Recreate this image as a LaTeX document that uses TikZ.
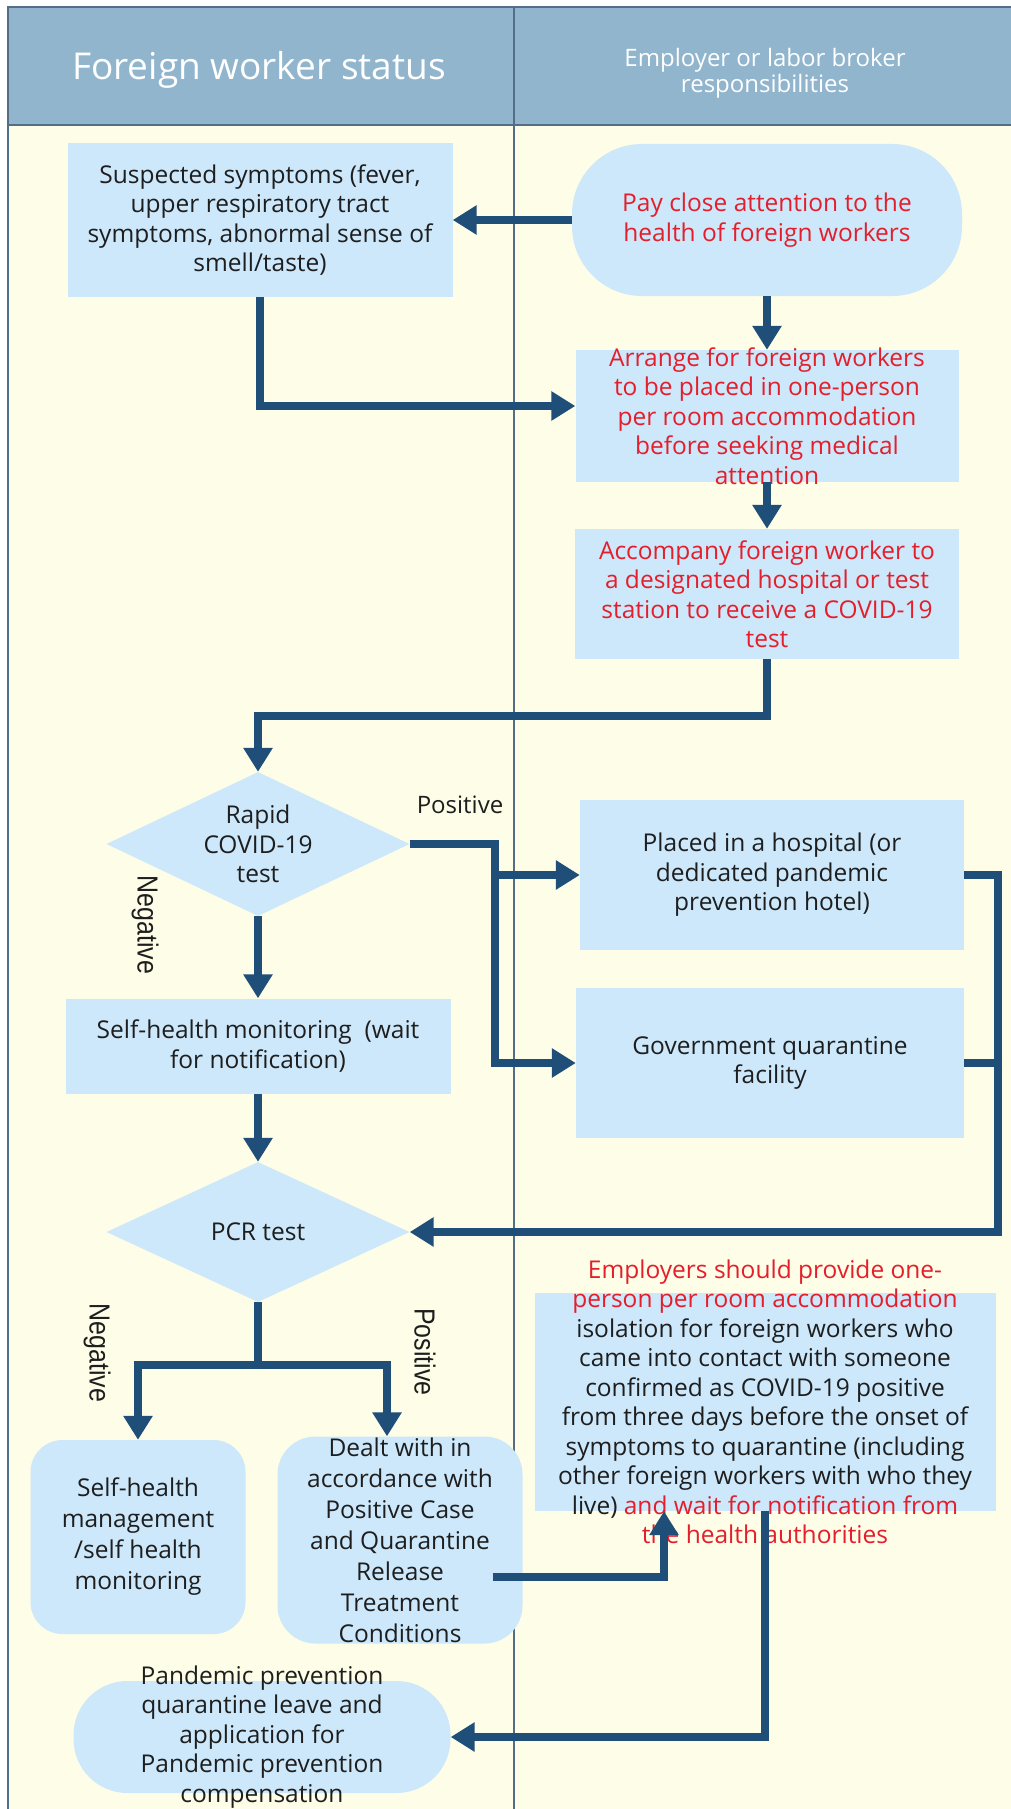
\documentclass[tikz,border=0pt]{standalone}
\usepackage{fontspec}
\setmainfont{Open Sans}
\newfontfamily\labelfamily{Liberation Sans}
\usetikzlibrary{arrows.meta,shapes.geometric}
\pgfdeclarelayer{lanelayer}
\pgfdeclarelayer{nodelayer}
\pgfdeclarelayer{edgelayer}
\pgfsetlayers{lanelayer,nodelayer,main,edgelayer}
\definecolor{headblue}{RGB}{145,181,204}
\definecolor{lanecream}{RGB}{253,253,232}
\definecolor{boxblue}{RGB}{204,232,250}
\definecolor{flowblue}{RGB}{31,78,121}
\definecolor{alertred}{RGB}{228,30,43}
\definecolor{laneline}{RGB}{84,110,135}
\definecolor{inkblack}{RGB}{30,30,30}
\newcommand{\bodysize}{\fontsize{24.5pt}{29.5pt}\selectfont}
\newcommand{\loosesize}{\fontsize{24.5pt}{31pt}\selectfont}
\tikzstyle{laneedge}=[draw=laneline, line width=1.6pt]
\tikzstyle{headtext}=[text=white, align=center, inner sep=0pt]
\tikzstyle{box}=[rectangle, fill=boxblue, inner sep=0pt]
\tikzstyle{roundbox}=[box, rounded corners=32pt]
\tikzstyle{decision}=[diamond, fill=boxblue, inner sep=0pt]
\tikzstyle{boxtext}=[align=center, font=\bodysize, text=inkblack, inner sep=0pt]
\tikzstyle{redtext}=[boxtext, text=alertred]
\tikzstyle{branchlabel}=[font=\labelfamily\fontsize{29pt}{32pt}\selectfont, text=inkblack, inner sep=0pt, rotate=-90, xscale=0.86]
\tikzstyle{flow}=[draw=flowblue, line width=8pt, -{Triangle[length=24pt,width=28pt]}]
\tikzstyle{flowline}=[draw=flowblue, line width=8pt]

\begin{document}
\begin{tikzpicture}[x=1pt,y=-1pt]
	\useasboundingbox (0,0) rectangle (1011,1809);
	\begin{pgfonlayer}{lanelayer}
		\fill [lanecream] (8,125) rectangle (1011,1809);
		\fill [headblue] (8,7) rectangle (1011,125);
		\draw [style=laneedge] (1011,7) -- (8,7) -- (8,1809);
		\draw [style=laneedge] (8,125) -- (1011,125);
		\draw [style=laneedge] (514,7) -- (514,1809);
	\end{pgfonlayer}
	\begin{pgfonlayer}{nodelayer}
		\node [style=box, minimum width=385pt, minimum height=154pt] (0) at (260,220) {};
		\node [style=roundbox, rounded corners=70pt, minimum width=390pt, minimum height=152pt] (1) at (767,220) {};
		\node [style=box, minimum width=383pt, minimum height=132pt] (2) at (767,416) {};
		\node [style=box, minimum width=384pt, minimum height=130pt] (3) at (767,594) {};
		\node [style=decision, minimum width=303pt, minimum height=144pt] (4) at (258,844) {};
		\node [style=box, minimum width=384pt, minimum height=150pt] (5) at (772,875) {};
		\node [style=box, minimum width=385pt, minimum height=95pt] (6) at (258,1046) {};
		\node [style=box, minimum width=388pt, minimum height=150pt] (7) at (770,1063) {};
		\node [style=decision, minimum width=303pt, minimum height=140pt] (8) at (258,1232) {};
		\node [style=roundbox, minimum width=215pt, minimum height=194pt] (9) at (138,1537) {};
		\node [style=roundbox, rounded corners=38pt, minimum width=245pt, minimum height=207pt] (10) at (400,1540) {};
		\node [style=box, minimum width=461pt, minimum height=218pt] (11) at (765,1402) {};
		\node [style=roundbox, rounded corners=54pt, minimum width=377pt, minimum height=112pt] (12) at (262,1737) {};
	\end{pgfonlayer}
	\node [style=headtext, font=\fontsize{37pt}{40pt}\selectfont] (40) at (259,70) {Foreign worker status};
	\node [style=headtext, font=\fontsize{24pt}{26pt}\selectfont] (41) at (765,73) {Employer or labor broker\\responsibilities};
	\node [style=boxtext] (20) at (0.center) {Suspected symptoms (fever,\\upper respiratory tract\\symptoms, abnormal sense of\\smell/taste)};
	\node [style=redtext] (21) at (1.center) {Pay close attention to the\\health of foreign workers};
	\node [style=redtext] (22) at (2.center) {Arrange for foreign workers\\to be placed in one-person\\per room accommodation\\before seeking medical\\attention};
	\node [style=redtext] (23) at (3.center) {Accompany foreign worker to\\a designated hospital or test\\station to receive a COVID-19\\test};
	\node [style=boxtext] (24) at (4.center) {Rapid\\COVID-19\\test};
	\node [style=boxtext] (25) at (5.center) {Placed in a hospital (or\\dedicated pandemic\\prevention hotel)};
	\node [style=boxtext] (26) at (6.center) {Self-health monitoring~ (wait\\for notification)};
	\node [style=boxtext] (27) at (7.center) {Government quarantine\\facility};
	\node [style=boxtext] (28) at (8.center) {PCR test};
	\node [style=boxtext, font=\loosesize] (29) at (9.center) {Self-health\\management\\/self health\\monitoring};
	\node [style=boxtext, font=\loosesize] (30) at (10.center) {Dealt with in\\accordance with\\Positive Case\\and Quarantine\\Release\\Treatment\\Conditions};
	\node [style=boxtext] (31) at (11.center) {\textcolor{alertred}{Employers should provide one-}\\\textcolor{alertred}{person per room accommodation}\\isolation for foreign workers who\\came into contact with someone\\confirmed as COVID-19 positive\\from three days before the onset of\\symptoms to quarantine (including\\other foreign workers with who they\\live) \textcolor{alertred}{and wait for notification from}\\\textcolor{alertred}{the health authorities}};
	\node [style=boxtext] (32) at (12.center) {Pandemic prevention\\quarantine leave and\\application for\\Pandemic prevention\\compensation};
	\node [style=boxtext, font=\fontsize{24pt}{26pt}\selectfont] (42) at (460,805) {Positive};
	\node [style=branchlabel] (43) at (145,925) {Negative};
	\node [style=branchlabel] (44) at (97,1353) {Negative};
	\node [style=branchlabel] (45) at (425,1352) {Positive};
	\begin{pgfonlayer}{edgelayer}
		\draw [style=flow] (1) to (0);
		\draw [style=flow] (0.south) |- ([yshift=10pt]2.west);
		\draw [style=flow] (1) to (2);
		\draw [style=flow] (2) to (3);
		\draw [style=flow] (3.south) -- ++(0,57) -| (4.north);
		\draw [style=flow] (4.east) -- ++(85,0) |- (5.west);
		\draw [style=flow] (4.east) -- ++(85,0) |- (7.west);
		\draw [style=flow] (4) to (6);
		\draw [style=flow] (5.east) -- ++(34,0) |- (8.east);
		\draw [style=flowline] (7.east) -- ++(34,0);
		\draw [style=flow] (6) to (8);
		\draw [style=flow] (8.south) -- ++(0,63) -| (9.north);
		\draw [style=flow] (8.south) -- ++(0,63) -| ([xshift=-13pt]10.north);
		\draw [style=flow] ([xshift=-30pt,yshift=-37pt]10.east) -| ([xshift=-101pt]11.south);
		\draw [style=flow] (11.south) |- (12.east);
	\end{pgfonlayer}
\end{tikzpicture}
\end{document}
